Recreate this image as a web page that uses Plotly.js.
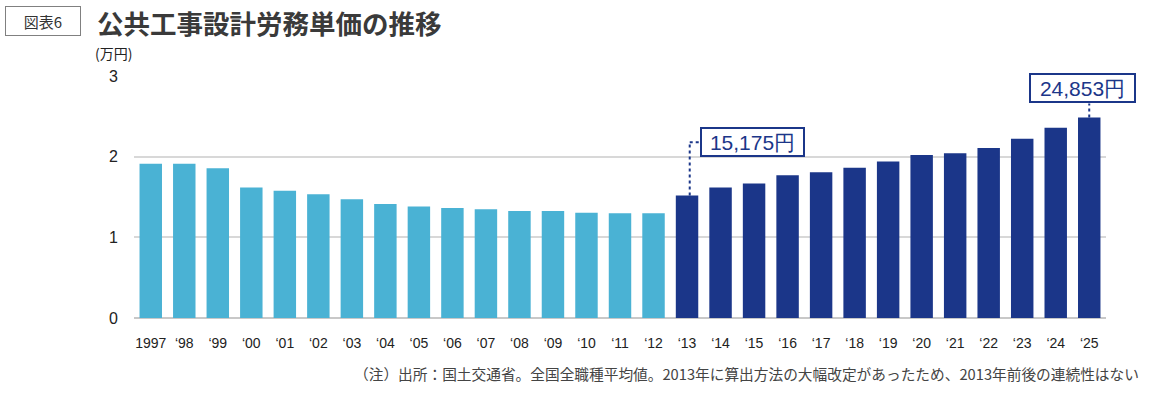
<!DOCTYPE html>
<html>
<head>
<meta charset="utf-8">
<script src="https://cdn.plot.ly/plotly-3.0.1.min.js"></script>
<style>html,body{margin:0;padding:0;background:#fff}#chart{width:1149px;height:393px}</style>
</head>
<body>
<div id="chart"></div>
<script>
// Data (万円)
const yearsOld = ['1997','‘98','‘99','‘00','‘01','‘02','‘03','‘04','‘05','‘06','‘07','‘08','‘09','‘10','‘11','‘12'];
const valuesOld = [1.912,1.911,1.855,1.619,1.577,1.533,1.471,1.413,1.381,1.364,1.347,1.327,1.326,1.306,1.298,1.299];
const yearsNew = ['‘13','‘14','‘15','‘16','‘17','‘18','‘19','‘20','‘21','‘22','‘23','‘24','‘25'];
const valuesNew = [1.5175,1.619,1.6678,1.7704,1.8078,1.8632,1.9392,2.0214,2.0409,2.1084,2.2227,2.36,2.4853];
const yTicks = [0,1,2,3];
const callouts = ['15,175円','24,853円'];

const W = 1149, H = 393;
const M = {l:134, r:43, t:76, b:75};
const pw = W - M.l - M.r, ph = H - M.t - M.b;
const px = x => (x - M.l) / pw;
const py = y => (H - M.b - y) / ph;

const NAVY = '#1b3689';
const LIGHT = '#4ab2d4';
const NUMF = 'Liberation Sans, Arial, sans-serif';
const JPF = 'Noto Sans CJK JP, sans-serif';
const allYears = yearsOld.concat(yearsNew);
const iFirstNew = yearsOld.length;
const iLast = allYears.length - 1;
const vFirstNew = valuesNew[0];
const vLast = valuesNew[valuesNew.length - 1];

const traces = [
  {type:'bar', x:yearsOld, y:valuesOld, marker:{color:LIGHT}, hoverinfo:'x+y'},
  {type:'bar', x:yearsNew, y:valuesNew, marker:{color:NAVY}, hoverinfo:'x+y'}
];

const box1Y = 2.18, box2Y = 2.847;

const layout = {
  width:W, height:H,
  margin:M,
  paper_bgcolor:'#fff', plot_bgcolor:'#fff',
  showlegend:false,
  barmode:'overlay',
  bargap:0.33,
  xaxis:{type:'category', categoryorder:'array', categoryarray:allYears,
    range:[-0.5, allYears.length - 0.5], autorange:false,
    tickfont:{family:NUMF, size:14, color:'#222'},
    ticks:'outside', ticklen:12, tickcolor:'rgba(0,0,0,0)',
    showgrid:false, showline:false, zeroline:false, fixedrange:true},
  yaxis:{range:[0,3], autorange:false, tickvals:yTicks, ticktext:yTicks.map(String),
    tickfont:{family:NUMF, size:16, color:'#222'},
    ticks:'outside', ticklen:12, tickcolor:'rgba(0,0,0,0)',
    showgrid:true, gridcolor:'#d8d8d8', gridwidth:2,
    zeroline:true, zerolinecolor:'#c8c8c8', zerolinewidth:2,
    showline:false, fixedrange:true},
  shapes:[
    {type:'line', xref:'x', yref:'y', x0:iFirstNew+0.08, x1:iFirstNew+0.08, y0:vFirstNew, y1:box1Y,
     line:{color:NAVY, width:2, dash:'dot'}},
    {type:'line', xref:'x', yref:'y', x0:iFirstNew+0.08, x1:iFirstNew+0.4, y0:box1Y, y1:box1Y,
     line:{color:NAVY, width:2, dash:'dot'}},
    {type:'line', xref:'x', yref:'y', x0:iLast, x1:iLast, y0:vLast, y1:2.66,
     line:{color:NAVY, width:2, dash:'dot'}}
  ],
  annotations:[
    {xref:'paper', yref:'paper', x:px(43), y:py(21), xanchor:'center', yanchor:'middle',
     text:'図表6', showarrow:false, width:72, height:26,
     bordercolor:'#808080', borderwidth:1, bgcolor:'#fff',
     font:{family:JPF, size:15, color:'#333'}},
    {xref:'paper', yref:'paper', x:px(95), y:py(22), xanchor:'left', yanchor:'middle',
     text:'<b>公共工事設計労務単価の推移</b>', showarrow:false,
     font:{family:JPF, size:26.5, color:'#3a3a3a'}},
    {xref:'paper', yref:'paper', x:px(93), y:py(53), xanchor:'left', yanchor:'middle',
     text:'(万円)', showarrow:false,
     font:{family:JPF, size:14, color:'#222'}},
    {xref:'paper', yref:'paper', x:px(1141), y:py(373), xanchor:'right', yanchor:'middle',
     text:'（注）出所：国土交通省。全国全職種平均値。2013年に算出方法の大幅改定があったため、2013年前後の連続性はない',
     showarrow:false, font:{family:JPF, size:14.7, color:'#444'}},
    {xref:'x', yref:'y', x:iFirstNew+0.38, y:box1Y, xanchor:'left', yanchor:'middle',
     text:callouts[0], showarrow:false, bgcolor:'#fff', bordercolor:NAVY, borderwidth:2, borderpad:0,
     width:101, height:26,
     font:{family:NUMF, size:21, color:NAVY}},
    {xref:'x', yref:'y', x:iLast-0.2, y:box2Y, xanchor:'center', yanchor:'middle',
     text:callouts[1], showarrow:false, bgcolor:'#fff', bordercolor:NAVY, borderwidth:2, borderpad:0,
     width:103, height:26,
     font:{family:NUMF, size:21, color:NAVY}}
  ]
};

Plotly.newPlot('chart', traces, layout, {displayModeBar:false, staticPlot:true});
</script>
</body>
</html>
